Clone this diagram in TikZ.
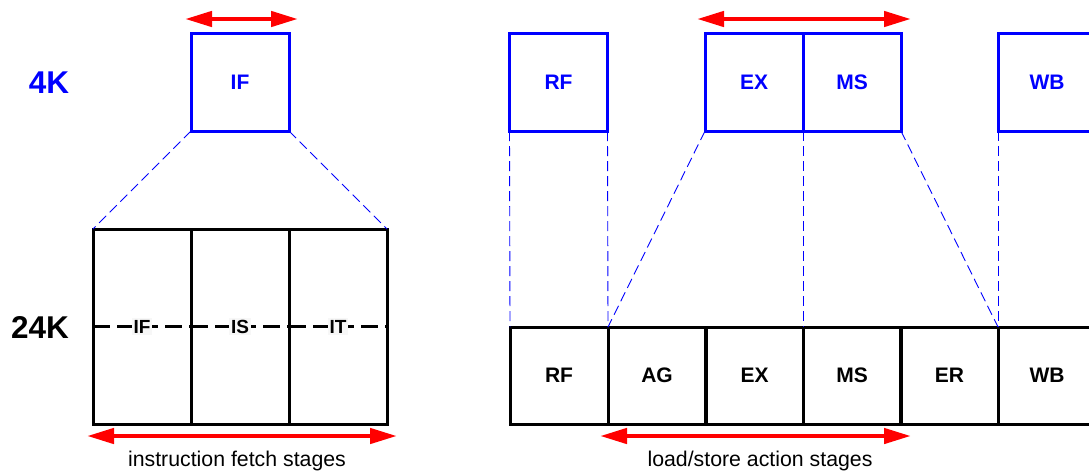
\documentclass[tikz,border=0pt]{standalone}
\usepackage{fontspec}
\setmainfont{Liberation Sans}
\usetikzlibrary{arrows.meta}
\begin{document}
\begin{tikzpicture}[x=1pt,y=-1pt,
  stagebox/.style={draw=blue, line width=3pt, minimum width=98pt, minimum height=98pt,
    inner sep=0pt, outer sep=0pt, text=blue, font=\fontsize{21}{21}\selectfont\bfseries},
  cellbox/.style={draw=black, line width=3pt, minimum width=98pt, minimum height=97pt,
    inner sep=0pt, outer sep=0pt, font=\fontsize{21}{21}\selectfont\bfseries},
  tallcell/.style={cellbox, minimum height=195pt},
  zoomline/.style={draw=blue, line width=0.9pt, dash pattern=on 10pt off 5pt},
  midline/.style={draw=black, line width=3.5pt, dash pattern=on 17pt off 7pt},
  midlabel/.style={fill=white!97!black, inner sep=2pt, font=\fontsize{19}{19}\selectfont\bfseries},
  span/.style={draw=red, line width=4.5pt, {Triangle[length=27pt,width=15pt]}-{Triangle[length=27pt,width=15pt]}},
  sizelabel/.style={font=\fontsize{31.5}{31.5}\selectfont\bfseries},
  caption/.style={font=\fontsize{21.3}{21.3}\selectfont}]
\useasboundingbox (0,0) rectangle (1089,472);
\clip (0,0) rectangle (1089,472);

% 4K pipeline stages
\node[sizelabel, text=blue] (k4) at (49,83) {4K};
\node[stagebox] (if4) at (240,82) {IF};
\node[stagebox] (rf4) at (558.5,82) {RF};
\node[stagebox] (ex4) at (754,82) {EX};
\node[stagebox] (ms4) at (852,82) {MS};
\node[stagebox] (wb4) at (1047,82) {WB};

% 24K instruction fetch stages
\node[sizelabel] (k24) at (40,327) {24K};
\node[tallcell] (f1) at (142,326.5) {};
\node[tallcell] (f2) at (240,326.5) {};
\node[tallcell] (f3) at (338,326.5) {};
\draw[midline] (f1.west) -- (f1.east);
\draw[midline] (f2.west) -- (f2.east);
\draw[midline] (f3.west) -- (f3.east);
\node[midlabel] (if24) at (f1.center) {IF};
\node[midlabel] (is24) at (f2.center) {IS};
\node[midlabel] (it24) at (f3.center) {IT};

% 24K execution stages
\node[cellbox] (rf24) at (559,375.5) {RF};
\node[cellbox] (ag24) at (657,375.5) {AG};
\node[cellbox] (ex24) at (754.5,375.5) {EX};
\node[cellbox] (ms24) at (852,375.5) {MS};
\node[cellbox] (er24) at (949.5,375.5) {ER};
\node[cellbox] (wb24) at (1047,375.5) {WB};

% expansion lines
\draw[zoomline] (if4.south west) -- (f1.north west);
\draw[zoomline] (if4.south east) -- (f3.north east);
\draw[zoomline] (rf4.south west) -- (rf24.north west);
\draw[zoomline] (rf4.south east) -- (rf24.north east);
\draw[zoomline] (ex4.south west) -- (ag24.north west);
\draw[zoomline] (ms4.south west) -- (ms24.north west);
\draw[zoomline] (ms4.south east) -- (wb24.north west);
\draw[zoomline] (wb4.south west) -- (wb24.north west);

% span arrows
\coordinate (a1l) at (185,19);  \coordinate (a1r) at (298,19);
\coordinate (a2l) at (697,19);  \coordinate (a2r) at (911,19);
\coordinate (a3l) at (87,436);  \coordinate (a3r) at (397,436);
\coordinate (a4l) at (600,436); \coordinate (a4r) at (911,436);
\draw[span] (a1l) -- (a1r);
\draw[span] (a2l) -- (a2r);
\draw[span] (a3l) -- (a3r);
\draw[span] (a4l) -- (a4r);

\node[caption] (cap1) at (237,461) {instruction fetch stages};
\node[caption] (cap2) at (760,461) {load/store action stages};
\end{tikzpicture}
\end{document}
